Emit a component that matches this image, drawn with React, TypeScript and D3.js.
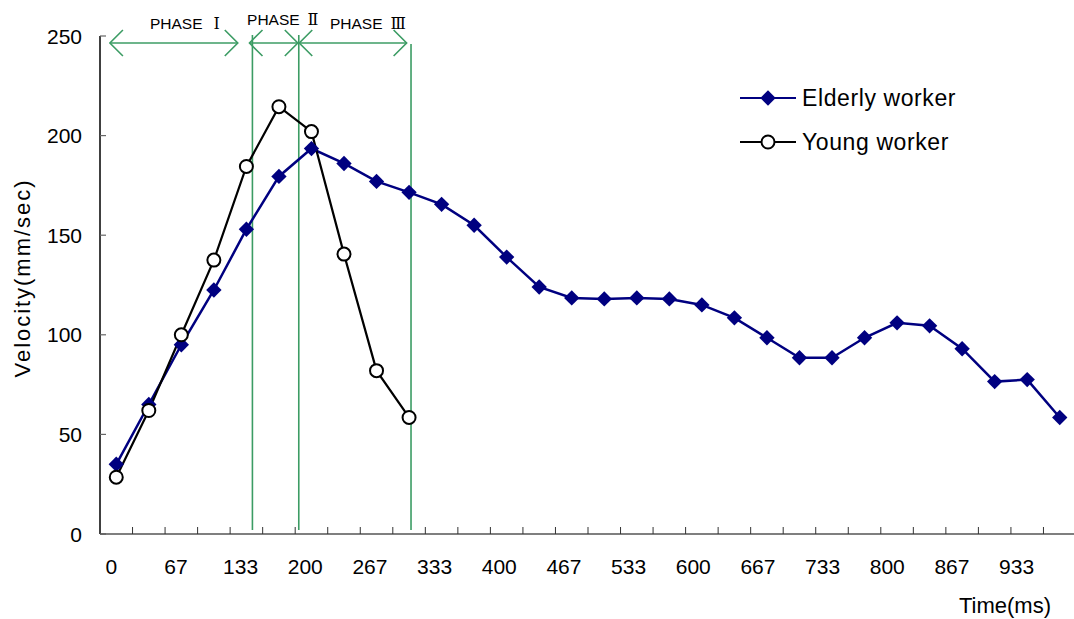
import { useEffect, useRef } from 'react';
import * as d3 from 'd3';

// time (ms) of every sample, one every 33.3 ms
const TIMES = d3.range(30).map(i => Math.round(i * 100 / 3));
const TICK_LABELS = ['0', '67', '133', '200', '267', '333', '400', '467', '533', '600', '667', '733', '800', '867', '933'];

const ELDERLY = [
  35, 65, 95, 122.5, 153, 179.5, 193.5, 186, 177, 171.5,
  165.5, 155, 139, 124, 118.5, 118, 118.5, 118, 115, 108.5,
  98.5, 88.5, 88.5, 98.5, 106, 104.5, 93, 76.5, 77.5, 58.5,
];
const YOUNG = [28.5, 62, 100, 137.5, 184.5, 214.5, 202, 140.5, 82, 58.5];

// phase markers in ms
const PHASE_LINES = [{ t: 139.5, top: 250.5 }, { t: 187, top: 250.5 }, { t: 302, top: 246 }];
const PHASE_ARROWS = [
  { name: 'PHASE', num: 'Ⅰ', from: -6.5, to: 124.5, labelT: 34.5, labelDy: 0, gap: 11 },
  { name: 'PHASE', num: 'Ⅱ', from: 136.5, to: 186, labelT: 134, labelDy: -4, gap: 8 },
  { name: 'PHASE', num: 'Ⅲ', from: 187.5, to: 297.5, labelT: 219, labelDy: 0, gap: 8 },
];

const FONT = '"Liberation Sans", Arial, sans-serif';
const NUM_FONT = '"DejaVu Serif", "Noto Sans CJK JP", serif';
const GREEN = '#3c9c64';
const NAVY = '#000080';

export default function App() {
  const svgRef = useRef<SVGSVGElement>(null);

  useEffect(() => {
    if (!svgRef.current) return;
    const svg = d3.select(svgRef.current);
    svg.selectAll('*').remove();

    const left = 100, right = 1076, top = 36, bottom = 534;

    const x = d3.scaleBand<number>().domain(d3.range(TIMES.length)).range([left, right]);
    const cx = (i: number) => (x(i) ?? 0) + x.bandwidth() / 2;
    // linear time -> pixel, matching the category centres
    const xt = d3.scaleLinear().domain([0, 2900 / 3]).range([cx(0), cx(TIMES.length - 1)]);
    const y = d3.scaleLinear().domain([0, 250]).range([bottom, top]);

    const g = svg.append('g');

    // y axis
    g.append('line').attr('x1', left).attr('x2', left).attr('y1', top).attr('y2', bottom)
      .attr('stroke', '#000').attr('stroke-width', 1.5);
    const yTicks = d3.range(0, 251, 50);
    g.selectAll('.ytick').data(yTicks).join('line')
      .attr('x1', left).attr('x2', left + 6)
      .attr('y1', d => y(d)).attr('y2', d => y(d))
      .attr('stroke', '#666').attr('stroke-width', 1.2);
    g.selectAll('.ylab').data(yTicks).join('text')
      .attr('x', left - 18).attr('y', d => y(d)).attr('dy', '0.36em')
      .attr('text-anchor', 'end').attr('font-family', FONT).attr('font-size', 21)
      .text(d => d);

    // x axis
    g.append('line').attr('x1', left).attr('x2', right).attr('y1', bottom).attr('y2', bottom)
      .attr('stroke', '#555').attr('stroke-width', 1.5);
    g.selectAll('.xtick').data(d3.range(1, TIMES.length)).join('line')
      .attr('x1', d => x(d) ?? 0).attr('x2', d => x(d) ?? 0)
      .attr('y1', bottom).attr('y2', bottom - 7)
      .attr('stroke', '#333').attr('stroke-width', 1);
    g.selectAll('.xlab').data(TICK_LABELS).join('text')
      .attr('x', (_, i) => cx(i * 2) - 5 - i * 0.4).attr('y', 566).attr('dy', '0.36em')
      .attr('text-anchor', 'middle').attr('font-family', FONT).attr('font-size', 21)
      .text(d => d);

    g.append('text').attr('x', 1051).attr('y', 605).attr('dy', '0.36em')
      .attr('text-anchor', 'end').attr('font-family', FONT).attr('font-size', 22)
      .text('Time(ms)');
    g.append('text')
      .attr('transform', `translate(22,${(top + bottom) / 2 - 6}) rotate(-90)`)
      .attr('dy', '0.36em')
      .attr('text-anchor', 'middle').attr('font-family', FONT).attr('font-size', 22)
      .attr('textLength', 197).attr('lengthAdjust', 'spacing')
      .text('Velocity(mm/sec)');

    // phase lines
    g.selectAll('.pl').data(PHASE_LINES).join('line')
      .attr('x1', d => xt(d.t)).attr('x2', d => xt(d.t))
      .attr('y1', d => y(d.top)).attr('y2', bottom - 4)
      .attr('stroke', GREEN).attr('stroke-width', 1.6);

    // phase arrows
    const ay = 43;
    const head = 13;
    PHASE_ARROWS.forEach(a => {
      const x1 = xt(a.from), x2 = xt(a.to);
      g.append('line').attr('x1', x1).attr('x2', x2).attr('y1', ay).attr('y2', ay)
        .attr('stroke', GREEN).attr('stroke-width', 1.6);
      const path = d3.path();
      path.moveTo(x1 + head, ay - head); path.lineTo(x1, ay); path.lineTo(x1 + head, ay + head);
      path.moveTo(x2 - head, ay - head); path.lineTo(x2, ay); path.lineTo(x2 - head, ay + head);
      g.append('path').attr('d', path.toString()).attr('fill', 'none')
        .attr('stroke', GREEN).attr('stroke-width', 1.6);
      const t = g.append('text').attr('x', xt(a.labelT)).attr('y', 23 + a.labelDy).attr('dy', '0.36em')
        .attr('font-family', FONT).attr('font-size', 15.5);
      t.append('tspan').text(a.name);
      t.append('tspan').attr('dx', a.gap).attr('font-family', NUM_FONT).attr('font-size', 16).text(a.num);
    });

    // series lines
    const line = d3.line<number>().x((_, i) => cx(i)).y(d => y(d));
    g.append('path').attr('d', line(ELDERLY)).attr('fill', 'none')
      .attr('stroke', NAVY).attr('stroke-width', 2.5);
    g.append('path').attr('d', line(YOUNG)).attr('fill', 'none')
      .attr('stroke', '#000').attr('stroke-width', 2.2);

    const diamond = d3.symbol().type(d3.symbolDiamond2).size(150);
    g.selectAll('.dm').data(ELDERLY).join('path')
      .attr('d', diamond)
      .attr('transform', (d, i) => `translate(${cx(i)},${y(d)})`)
      .attr('fill', NAVY);
    g.selectAll('.ci').data(YOUNG).join('circle')
      .attr('cx', (_, i) => cx(i)).attr('cy', d => y(d)).attr('r', 6.5)
      .attr('fill', '#fff').attr('stroke', '#000').attr('stroke-width', 2);

    // legend
    const lg = svg.append('g');
    const items = [
      { name: 'Elderly worker', color: NAVY, kind: 'diamond', ly: 98 },
      { name: 'Young worker', color: '#000', kind: 'circle', ly: 142 },
    ];
    items.forEach(it => {
      lg.append('line').attr('x1', 740).attr('x2', 796).attr('y1', it.ly).attr('y2', it.ly)
        .attr('stroke', it.color).attr('stroke-width', 2.2);
      if (it.kind === 'diamond') {
        lg.append('path').attr('d', diamond).attr('transform', `translate(768,${it.ly})`)
          .attr('fill', NAVY);
      } else {
        lg.append('circle').attr('cx', 768).attr('cy', it.ly).attr('r', 6.5)
          .attr('fill', '#fff').attr('stroke', '#000').attr('stroke-width', 2);
      }
      lg.append('text').attr('x', 802).attr('y', it.ly).attr('dy', '0.36em')
        .attr('font-family', FONT).attr('font-size', 23).attr('letter-spacing', 0.6).text(it.name);
    });
  }, []);

  return (
    <svg ref={svgRef} width={1074} height={619}
      style={{ position: 'absolute', left: 0, top: 0, background: '#fff' }} />
  );
}
